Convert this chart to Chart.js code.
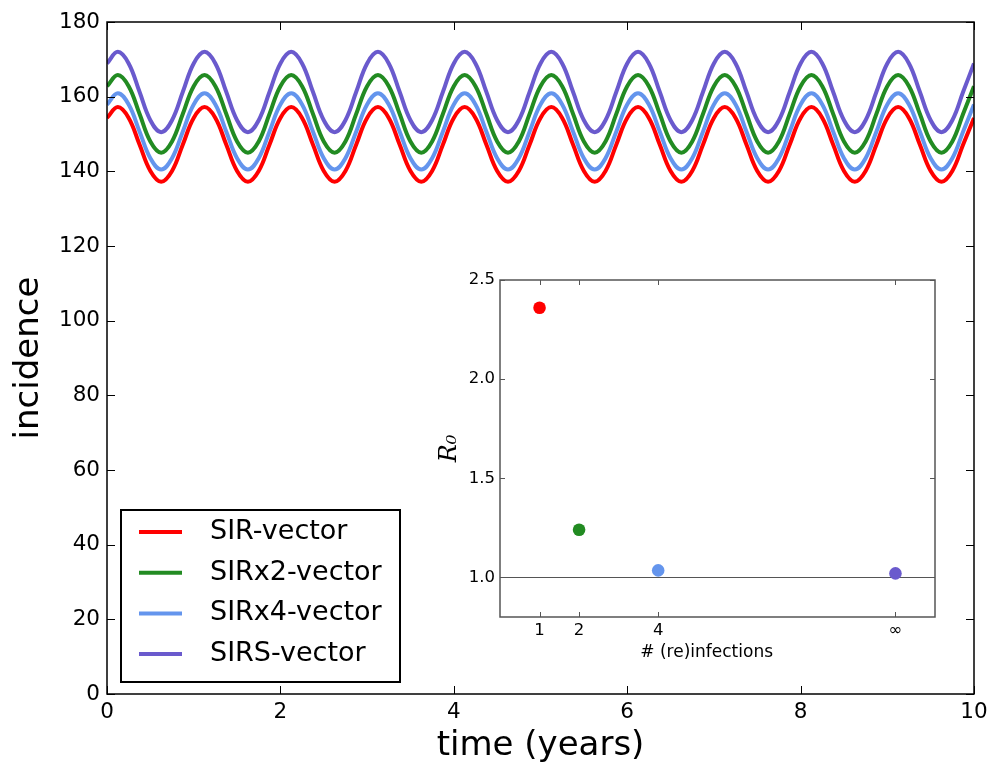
<!DOCTYPE html>
<html>
<head>
<meta charset="utf-8">
<script src="https://cdn.jsdelivr.net/npm/chart.js@4.4.1/dist/chart.umd.min.js"></script>
<style>
  html, body { margin: 0; padding: 0; background: #fff; }
  #wrap { position: relative; width: 1001px; height: 763px; }
  #mainChart { position: absolute; left: 0; top: 0; }
  #insetChart { position: absolute; left: 420px; top: 262px; }
</style>
</head>
<body>
<div id="wrap">
  <canvas id="mainChart" width="1001" height="763"></canvas>
  <canvas id="insetChart" width="540" height="417"></canvas>
</div>
<script>
"use strict";

// main panel: incidence over time, sampled every 1/8 year
const TIME_YEARS = [
  0, 0.125, 0.25, 0.375, 0.5, 0.625, 0.75, 0.875,
  1, 1.125, 1.25, 1.375, 1.5, 1.625, 1.75, 1.875,
  2, 2.125, 2.25, 2.375, 2.5, 2.625, 2.75, 2.875,
  3, 3.125, 3.25, 3.375, 3.5, 3.625, 3.75, 3.875,
  4, 4.125, 4.25, 4.375, 4.5, 4.625, 4.75, 4.875,
  5, 5.125, 5.25, 5.375, 5.5, 5.625, 5.75, 5.875,
  6, 6.125, 6.25, 6.375, 6.5, 6.625, 6.75, 6.875,
  7, 7.125, 7.25, 7.375, 7.5, 7.625, 7.75, 7.875,
  8, 8.125, 8.25, 8.375, 8.5, 8.625, 8.75, 8.875,
  9, 9.125, 9.25, 9.375, 9.5, 9.625, 9.75, 9.875,
  10,
];

const SIR_VECTOR = [
  154.3, 157.2, 154.3, 147.2, 140.1, 137.2, 140.1, 147.2,
  154.3, 157.2, 154.3, 147.2, 140.1, 137.2, 140.1, 147.2,
  154.3, 157.2, 154.3, 147.2, 140.1, 137.2, 140.1, 147.2,
  154.3, 157.2, 154.3, 147.2, 140.1, 137.2, 140.1, 147.2,
  154.3, 157.2, 154.3, 147.2, 140.1, 137.2, 140.1, 147.2,
  154.3, 157.2, 154.3, 147.2, 140.1, 137.2, 140.1, 147.2,
  154.3, 157.2, 154.3, 147.2, 140.1, 137.2, 140.1, 147.2,
  154.3, 157.2, 154.3, 147.2, 140.1, 137.2, 140.1, 147.2,
  154.3, 157.2, 154.3, 147.2, 140.1, 137.2, 140.1, 147.2,
  154.3, 157.2, 154.3, 147.2, 140.1, 137.2, 140.1, 147.2,
  154.3,
];

const SIRX2_VECTOR = [
  162.8, 165.8, 162.8, 155.4, 148.0, 145.0, 148.0, 155.4,
  162.8, 165.8, 162.8, 155.4, 148.0, 145.0, 148.0, 155.4,
  162.8, 165.8, 162.8, 155.4, 148.0, 145.0, 148.0, 155.4,
  162.8, 165.8, 162.8, 155.4, 148.0, 145.0, 148.0, 155.4,
  162.8, 165.8, 162.8, 155.4, 148.0, 145.0, 148.0, 155.4,
  162.8, 165.8, 162.8, 155.4, 148.0, 145.0, 148.0, 155.4,
  162.8, 165.8, 162.8, 155.4, 148.0, 145.0, 148.0, 155.4,
  162.8, 165.8, 162.8, 155.4, 148.0, 145.0, 148.0, 155.4,
  162.8, 165.8, 162.8, 155.4, 148.0, 145.0, 148.0, 155.4,
  162.8, 165.8, 162.8, 155.4, 148.0, 145.0, 148.0, 155.4,
  162.8,
];

const SIRX4_VECTOR = [
  157.9, 160.9, 157.9, 150.7, 143.5, 140.5, 143.5, 150.7,
  157.9, 160.9, 157.9, 150.7, 143.5, 140.5, 143.5, 150.7,
  157.9, 160.9, 157.9, 150.7, 143.5, 140.5, 143.5, 150.7,
  157.9, 160.9, 157.9, 150.7, 143.5, 140.5, 143.5, 150.7,
  157.9, 160.9, 157.9, 150.7, 143.5, 140.5, 143.5, 150.7,
  157.9, 160.9, 157.9, 150.7, 143.5, 140.5, 143.5, 150.7,
  157.9, 160.9, 157.9, 150.7, 143.5, 140.5, 143.5, 150.7,
  157.9, 160.9, 157.9, 150.7, 143.5, 140.5, 143.5, 150.7,
  157.9, 160.9, 157.9, 150.7, 143.5, 140.5, 143.5, 150.7,
  157.9, 160.9, 157.9, 150.7, 143.5, 140.5, 143.5, 150.7,
  157.9,
];

const SIRS_VECTOR = [
  168.9, 172.0, 168.9, 161.3, 153.7, 150.5, 153.7, 161.3,
  168.9, 172.0, 168.9, 161.3, 153.7, 150.5, 153.7, 161.3,
  168.9, 172.0, 168.9, 161.3, 153.7, 150.5, 153.7, 161.3,
  168.9, 172.0, 168.9, 161.3, 153.7, 150.5, 153.7, 161.3,
  168.9, 172.0, 168.9, 161.3, 153.7, 150.5, 153.7, 161.3,
  168.9, 172.0, 168.9, 161.3, 153.7, 150.5, 153.7, 161.3,
  168.9, 172.0, 168.9, 161.3, 153.7, 150.5, 153.7, 161.3,
  168.9, 172.0, 168.9, 161.3, 153.7, 150.5, 153.7, 161.3,
  168.9, 172.0, 168.9, 161.3, 153.7, 150.5, 153.7, 161.3,
  168.9, 172.0, 168.9, 161.3, 153.7, 150.5, 153.7, 161.3,
  168.9,
];

const SERIES_LABELS = ["SIR-vector", "SIRx2-vector", "SIRx4-vector", "SIRS-vector"];
const SERIES_VALUES = [SIR_VECTOR, SIRX2_VECTOR, SIRX4_VECTOR, SIRS_VECTOR];
const SERIES_COLORS = ["#ff0000", "#228b22", "#6495ed", "#6a5acd"];

// inset: R0 against number of (re)infections
const INFECTIONS       = [1, 2, 4, 10];
const INFECTION_LABELS = ["1", "2", "4", "\u221e"];
const R0_VALUES        = [2.36, 1.24, 1.035, 1.02];
const R0_TICKS         = [1.0, 1.5, 2.0, 2.5];
const R0_THRESHOLD     = 1.0;

const FONT = "'DejaVu Sans', sans-serif";
Chart.defaults.font.family = FONT;
Chart.defaults.color = "#000";

// matplotlib-style box with inward ticks on all four sides
const frameTicks = {
  id: "frameTicks",
  afterDatasetsDraw(chart, args, opts) {
    const { ctx, chartArea: a } = chart;
    const xs = chart.scales.x;
    const ys = chart.scales.y;
    const len = opts.length;
    ctx.save();
    ctx.strokeStyle = opts.color;
    ctx.lineWidth = opts.tickWidth;
    ctx.beginPath();
    xs.ticks.forEach((t) => {
      const p = Math.round(xs.getPixelForValue(t.value)) + 0.5;
      ctx.moveTo(p, a.bottom); ctx.lineTo(p, a.bottom - len);
      ctx.moveTo(p, a.top);    ctx.lineTo(p, a.top + len);
    });
    ys.ticks.forEach((t) => {
      const p = Math.round(ys.getPixelForValue(t.value)) + 0.5;
      ctx.moveTo(a.left, p);  ctx.lineTo(a.left + len, p);
      ctx.moveTo(a.right, p); ctx.lineTo(a.right - len, p);
    });
    ctx.stroke();
    ctx.lineWidth = opts.frameWidth;
    ctx.strokeRect(a.left, a.top, a.right - a.left, a.bottom - a.top);
    ctx.restore();
  },
};

const boxedLegend = {
  id: "boxedLegend",
  afterDraw(chart) {
    const { ctx } = chart;
    const x = 121, y = 510, w = 279, h = 172;
    ctx.save();
    ctx.fillStyle = "#fff";
    ctx.fillRect(x, y, w, h);
    ctx.strokeStyle = "#000";
    ctx.lineWidth = 2;
    ctx.strokeRect(x, y, w, h);
    ctx.font = "27px " + FONT;
    ctx.textBaseline = "middle";
    ctx.fillStyle = "#000";
    chart.data.datasets.forEach((ds, i) => {
      const ly = y + 22 + i * 40.7;
      ctx.strokeStyle = ds.borderColor;
      ctx.lineWidth = 4;
      ctx.beginPath();
      ctx.moveTo(139, ly);
      ctx.lineTo(182, ly);
      ctx.stroke();
      ctx.fillText(ds.label, 210, ly);
    });
    ctx.restore();
  },
};

const thresholdLine = {
  id: "thresholdLine",
  beforeDatasetsDraw(chart) {
    const { ctx, chartArea: a } = chart;
    const p = Math.round(chart.scales.y.getPixelForValue(R0_THRESHOLD)) + 0.5;
    ctx.save();
    ctx.strokeStyle = "#555";
    ctx.lineWidth = 1.2;
    ctx.beginPath();
    ctx.moveTo(a.left, p);
    ctx.lineTo(a.right, p);
    ctx.stroke();
    ctx.restore();
  },
};

new Chart(document.getElementById("mainChart"), {
  type: "line",
  data: {
    datasets: SERIES_VALUES.map((vals, i) => ({
      label: SERIES_LABELS[i],
      data: TIME_YEARS.map((t, k) => ({ x: t, y: vals[k] })),
      borderColor: SERIES_COLORS[i],
      backgroundColor: SERIES_COLORS[i],
      borderWidth: 4,
      pointRadius: 0,
      tension: 0.4,
      fill: false,
    })),
  },
  options: {
    responsive: false,
    animation: false,
    layout: { padding: { left: 0, top: 22, right: 27, bottom: 0 } },
    plugins: {
      legend: { display: false },
      tooltip: { enabled: false },
      frameTicks: { length: 8, color: "#000", tickWidth: 1, frameWidth: 1.5 },
    },
    scales: {
      x: {
        type: "linear",
        min: 0,
        max: 10,
        grid: { display: false, drawTicks: false },
        border: { display: false },
        ticks: { stepSize: 2, padding: 6, maxRotation: 0, autoSkip: false, font: { size: 21.5 }, color: "#000" },
        title: { display: true, text: "time (years)", font: { size: 34, lineHeight: 1 }, padding: { top: 0, bottom: 0 }, color: "#000" },
        afterFit: (scale) => { scale.height = 69; },
      },
      y: {
        min: 0,
        max: 180,
        grid: { display: false, drawTicks: false },
        border: { display: false },
        ticks: { stepSize: 20, padding: 7, font: { size: 21.5 }, color: "#000" },
        title: { display: true, text: "incidence", font: { size: 34, lineHeight: 1 }, padding: { top: 12, bottom: 0 }, color: "#000" },
        afterFit: (scale) => { scale.width = 107; },
      },
    },
  },
  plugins: [frameTicks, boxedLegend],
});

new Chart(document.getElementById("insetChart"), {
  type: "scatter",
  data: {
    datasets: [{
      data: INFECTIONS.map((n, i) => ({ x: n, y: R0_VALUES[i] })),
      backgroundColor: SERIES_COLORS,
      borderColor: SERIES_COLORS,
      pointRadius: 6.3,
      pointBorderWidth: 0,
    }],
  },
  options: {
    responsive: false,
    animation: false,
    layout: { padding: { left: 0, top: 18, right: 25, bottom: 0 } },
    plugins: {
      legend: { display: false },
      tooltip: { enabled: false },
      frameTicks: { length: 5, color: "#555", tickWidth: 1, frameWidth: 1.5 },
    },
    scales: {
      x: {
        type: "linear",
        min: 0,
        max: 11,
        grid: { display: false, drawTicks: false },
        border: { display: false },
        afterBuildTicks: (scale) => { scale.ticks = INFECTIONS.map((v) => ({ value: v })); },
        ticks: {
          padding: 4, maxRotation: 0, autoSkip: false, font: { size: 16.5 }, color: "#000",
          callback: (v) => INFECTION_LABELS[INFECTIONS.indexOf(v)],
        },
        title: { display: true, text: "# (re)infections    ", font: { size: 17, lineHeight: 1 }, padding: { top: 0, bottom: 18 }, color: "#000" },
        afterFit: (scale) => { scale.height = 62; },
      },
      y: {
        min: 0.8,
        max: 2.5,
        grid: { display: false, drawTicks: false },
        border: { display: false },
        afterBuildTicks: (scale) => { scale.ticks = R0_TICKS.map((v) => ({ value: v })); },
        ticks: { padding: 5, font: { size: 16.5 }, color: "#000", callback: (v) => v.toFixed(1) },
        title: {
          display: true, text: "R\u2080",
          font: { family: "'DejaVu Serif', serif", style: "italic", size: 24, lineHeight: 1 },
          padding: { top: 18, bottom: 0 }, color: "#000",
        },
        afterFit: (scale) => { scale.width = 80; },
      },
    },
  },
  plugins: [thresholdLine, frameTicks],
});
</script>
</body>
</html>
